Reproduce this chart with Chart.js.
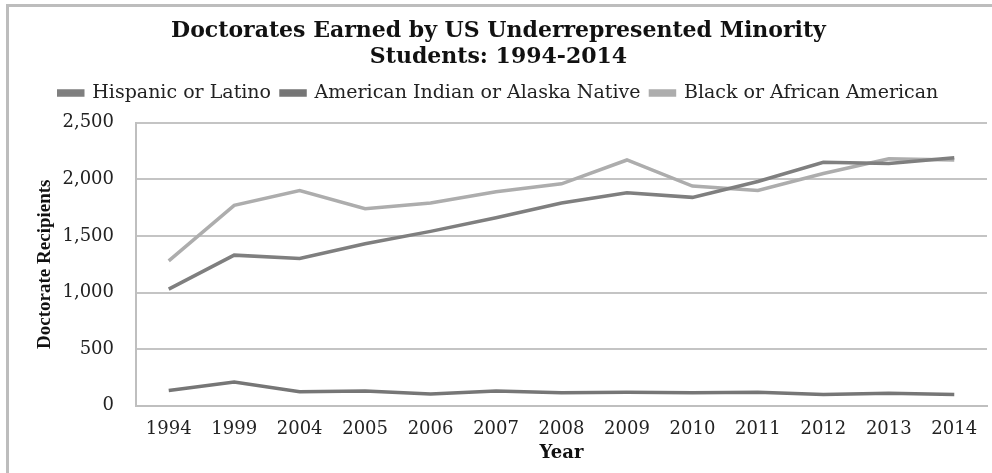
<!DOCTYPE html>
<html>
<head>
<meta charset="utf-8">
<script src="https://cdn.jsdelivr.net/npm/chart.js@4/dist/chart.umd.min.js"></script>
<style>
    html, body { margin: 0; padding: 0; background: #fff; }
    #wrap { position: relative; width: 992px; height: 473px; }
    #frame {
        position: absolute; left: 6px; top: 4px; right: 0; bottom: 0;
        border-top: 3px solid #bdbdbd; border-left: 3px solid #bdbdbd;
        pointer-events: none;
    }
</style>
</head>
<body>
<div id="wrap">
    <canvas id="myChart" width="992" height="473"></canvas>
    <div id="frame"></div>
</div>
<script>
const years = ["1994", "1999", "2004", "2005", "2006", "2007", "2008", "2009", "2010", "2011", "2012", "2013", "2014"];
const hispanic = [1030, 1330, 1300, 1430, 1540, 1660, 1790, 1880, 1840, 1980, 2150, 2140, 2190];
const amIndian = [135, 210, 125, 130, 105, 130, 115, 120, 115, 120, 100, 110, 100];
const black = [1280, 1770, 1900, 1740, 1790, 1890, 1960, 2170, 1940, 1900, 2050, 2180, 2170];
const yTicks = [0, 500, 1000, 1500, 2000, 2500];

const serif = "'DejaVu Serif', serif";

// leaves a little more room between the legend and the plot
const legendGap = {
    id: "legendGap",
    beforeLayout(chart) {
        const lg = chart.legend;
        if (lg && !lg._gapPatched) {
            const fit = lg.fit.bind(lg);
            lg.fit = function () {
                fit();
                this.height += 10;
            };
            lg._gapPatched = true;
        }
    },
};

const data = {
    labels: years,
    datasets: [
        {
            label: "Hispanic or Latino",
            data: hispanic,
            borderColor: "#7f7f7f",
            backgroundColor: "#7f7f7f",
        },
        {
            label: "American Indian or Alaska Native",
            data: amIndian,
            borderColor: "#767676",
            backgroundColor: "#767676",
        },
        {
            label: "Black or African American",
            data: black,
            borderColor: "#adadad",
            backgroundColor: "#adadad",
        },
    ],
};

const config = {
    type: "line",
    data: data,
    plugins: [legendGap],
    options: {
        responsive: false,
        animation: false,
        layout: { padding: { left: 10, right: 5, top: 0, bottom: 9 } },
        elements: {
            line: { borderWidth: 3.5, tension: 0 },
            point: { radius: 0 },
        },
        plugins: {
            tooltip: { enabled: false },
            title: {
                display: true,
                text: ["Doctorates Earned by US Underrepresented Minority", "Students: 1994-2014"],
                color: "#111",
                font: { family: serif, size: 22, weight: "bold", lineHeight: 1.15 },
                padding: { top: 19, bottom: 4 },
            },
            legend: {
                position: "top",
                labels: {
                    color: "#222",
                    font: { family: serif, size: 19 },
                    boxWidth: 24,
                    boxHeight: 4,
                    padding: 10,
                },
            },
        },
        scales: {
            x: {
                offset: true,
                grid: { display: false, drawTicks: false },
                border: { color: "#bfbfbf", width: 2 },
                ticks: {
                    color: "#222",
                    font: { family: serif, size: 18 },
                    padding: 13,
                    maxRotation: 0,
                },
                title: {
                    display: true,
                    text: "Year",
                    color: "#111",
                    font: { family: serif, size: 18, weight: "bold" },
                    padding: { top: -11, bottom: 0 },
                },
            },
            y: {
                min: 0,
                max: 2500,
                afterBuildTicks: (scale) => {
                    scale.ticks = yTicks.map((v) => ({ value: v }));
                },
                afterFit: (scale) => {
                    scale.width = 126;
                },
                grid: { color: "#c4c4c4", lineWidth: 2, drawTicks: false },
                border: { color: "#bfbfbf", width: 2 },
                ticks: {
                    color: "#222",
                    font: { family: serif, size: 18 },
                    padding: 22,
                    callback: (v) => v.toLocaleString("en-US"),
                },
                title: {
                    display: true,
                    text: "Doctorate Recipients",
                    color: "#111",
                    font: { family: "'Liberation Serif', serif", size: 19, weight: "bold" },
                    padding: { top: 24, bottom: 0 },
                },
            },
        },
    },
};

const ctx = document.getElementById("myChart").getContext("2d");
const myChart = new Chart(ctx, config);
</script>
</body>
</html>
